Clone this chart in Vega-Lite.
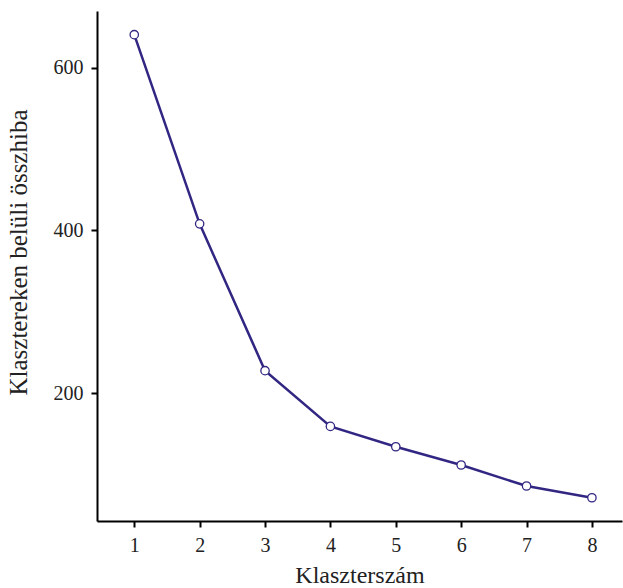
{
  "$schema": "https://vega.github.io/schema/vega-lite/v6.json",
  "width": 525,
  "height": 510,
  "autosize": {"type": "none"},
  "padding": {"left": 97, "top": 11, "right": 1, "bottom": 67},
  "background": "white",
  "config": {
    "view": {"stroke": null},
    "font": "Liberation Serif",
    "axis": {
      "grid": false,
      "domainColor": "black",
      "domainWidth": 2,
      "tickColor": "black",
      "tickWidth": 2,
      "tickSize": 6,
      "labelFont": "Liberation Serif",
      "labelFontSize": 20,
      "labelColor": "#222",
      "titleFont": "Liberation Serif",
      "titleFontSize": 24,
      "titleFontWeight": "normal",
      "titleColor": "#222"
    }
  },
  "data": {
    "values": [
      {"k": 1, "wss": 640.6},
      {"k": 2, "wss": 408},
      {"k": 3, "wss": 227.5},
      {"k": 4, "wss": 159},
      {"k": 5, "wss": 134},
      {"k": 6, "wss": 111.5},
      {"k": 7, "wss": 85.7},
      {"k": 8, "wss": 71.3}
    ]
  },
  "encoding": {
    "x": {
      "field": "k",
      "type": "quantitative",
      "title": "Klaszterszám",
      "scale": {"domain": [0.43, 8.46], "nice": false, "zero": false},
      "axis": {"values": [1, 2, 3, 4, 5, 6, 7, 8], "labelPadding": 8, "titlePadding": 8}
    },
    "y": {
      "field": "wss",
      "type": "quantitative",
      "title": "Klasztereken belüli összhiba",
      "scale": {"domain": [42.7, 669.7], "nice": false, "zero": false},
      "axis": {"values": [200, 400, 600], "labelPadding": 8, "titleX": -79, "titleBaseline": "middle", "titleY": 241, "titleFontSize": 25}
    }
  },
  "layer": [
    {"mark": {"type": "line", "color": "#312783", "strokeWidth": 2.5}},
    {"mark": {"type": "point", "shape": "circle", "filled": true, "fill": "white", "stroke": "#312783", "strokeWidth": 1.3, "size": 70, "opacity": 1}}
  ]
}
